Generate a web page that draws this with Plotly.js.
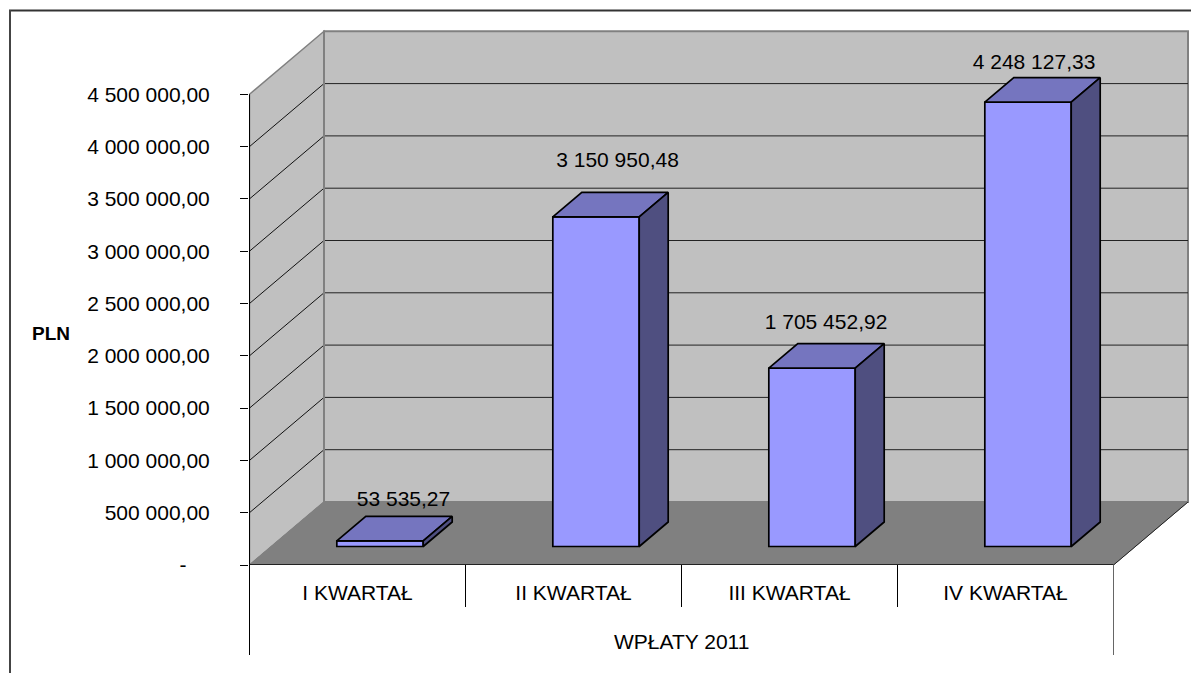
<!DOCTYPE html>
<html><head><meta charset="utf-8"><script src="https://cdn.plot.ly/plotly-3.0.1.min.js"></script>
<style>html,body{margin:0;padding:0;background:#fff}</style></head>
<body><div id="chart" style="width:1191px;height:673px"></div>
<script>
const categories = ["I KWARTAŁ", "II KWARTAŁ", "III KWARTAŁ", "IV KWARTAŁ"];
const values = [53535.27, 3150950.48, 1705452.92, 4248127.33];
const valueLabels = ["53 535,27", "3 150 950,48", "1 705 452,92", "4 248 127,33"];
const groupLabel = "WPŁATY 2011";
const axisTitle = "PLN";
const tickVals = [0, 500000, 1000000, 1500000, 2000000, 2500000, 3000000, 3500000, 4000000, 4500000];
const tickText = ["-\u00a0\u00a0\u00a0\u00a0", "500 000,00", "1 000 000,00", "1 500 000,00", "2 000 000,00", "2 500 000,00", "3 000 000,00", "3 500 000,00", "4 000 000,00", "4 500 000,00"];

// oblique projection of the depth axis, in axis units
const PXX = 216, PXY = 104.6 / 1e6;
const ML = 249, MT = 28, BOTTOM = 565, RIGHT = 1191, ORIGIN = 249.5;
const DX = 74.5 / PXX, DY = 63 / PXY, YMAX = 4.5e6;
const D0 = 18.5 / 63, D1 = 43 / 63, GAP = 0.303, W = 0.4;
const font = {family: '"Liberation Sans", Arial, sans-serif', color: '#000'};
const FS = 21;
const px = (x, d) => x + d * DX, py = (v, d) => v + d * DY;
const xr = [(ML - ORIGIN) / PXX, (RIGHT - ORIGIN) / PXX], yr = [0, (BOTTOM - MT) / PXY];
const paperX = p => (p - ML) / (RIGHT - ML), paperY = p => (BOTTOM - p) / (BOTTOM - MT);

function poly(pts, fill, lineColor, lw) {
  return {type: 'path', xref: 'x', yref: 'y', layer: 'below', fillcolor: fill,
    line: {color: lineColor, width: lw},
    path: 'M' + pts.map(p => p[0] + ',' + p[1]).join('L') + 'Z'};
}
function seg(x0, y0, x1, y1, color, w, xref, yref) {
  return {type: 'line', xref: xref || 'x', yref: yref || 'y', layer: 'below', x0, y0, x1, y1, line: {color, width: w}};
}
const shapes = [];
shapes.push(poly([[0,0],[0,YMAX],[DX,YMAX+DY],[DX,DY]], '#C0C0C0', '#808080', 1.5));
shapes.push(poly([[DX,DY],[DX,YMAX+DY],[4+DX,YMAX+DY],[4+DX,DY]], '#C0C0C0', '#808080', 2));
shapes.push(poly([[0,0],[4,0],[4+DX,DY],[DX,DY]], '#808080', '#808080', 1));
tickVals.slice(1, -1).forEach(v => {
  shapes.push(seg(0, v, DX, v + DY, '#111', 1));
  shapes.push(seg(DX, v + DY, 4 + DX, v + DY, '#222', 1));
});
shapes.push(seg(DX, DY, DX, YMAX + DY, '#808080', 2));
shapes.push(seg(0, 0, DX, DY, '#808080', 1));
shapes.push(seg(4, 0, 4 + DX, DY, '#222', 1));
shapes.push(seg(0, 0, 0, YMAX, '#000', 1));
shapes.push(seg(0, 0, 4, 0, '#222', 2));
// category dividers below the floor
const lowY = paperY(607), lowerY = paperY(655);
[0, 4].forEach((c, k) => shapes.push(seg(c, 0, c, lowerY, k ? '#666' : '#000', 1, 'x', 'paper')));
[1, 2, 3].forEach(c => shapes.push(seg(c, 0, c, lowY, '#000', 1, 'x', 'paper')));
shapes.forEach(s => { if (s.yref === 'paper') s.y0 = 0; });
// page frame
shapes.push({type: 'line', xref: 'paper', yref: 'paper', layer: 'above', x0: paperX(9), x1: paperX(1191), y0: paperY(10.5), y1: paperY(10.5), line: {color: '#333', width: 2}});
shapes.push({type: 'line', xref: 'paper', yref: 'paper', layer: 'above', x0: paperX(10), x1: paperX(10), y0: paperY(10), y1: paperY(673), line: {color: '#444', width: 2}});

const lefts = categories.map((_, i) => i + GAP + D0 * DX);
const frontBars = {type: 'bar', x: lefts.map(l => l + W / 2), y: values, base: values.map(() => D0 * DY), width: W,
  marker: {color: '#9999FF', line: {color: '#000', width: 1.7}}, hoverinfo: 'none', showlegend: false};

const faces = [];
values.forEach((v, i) => {
  const x0 = i + GAP, x1 = x0 + W;
  faces.push({type: 'scatter', mode: 'lines', showlegend: false, hoverinfo: 'none', fill: 'toself', fillcolor: '#7575BF',
    line: {color: '#000', width: 1.7},
    x: [px(x0, D0), px(x1, D0), px(x1, D1), px(x0, D1), px(x0, D0)],
    y: [py(v, D0), py(v, D0), py(v, D1), py(v, D1), py(v, D0)]});
  faces.push({type: 'scatter', mode: 'lines', showlegend: false, hoverinfo: 'none', fill: 'toself', fillcolor: '#4F4F80',
    line: {color: '#000', width: 1.7},
    x: [px(x1, D0), px(x1, D1), px(x1, D1), px(x1, D0), px(x1, D0)],
    y: [py(0, D0), py(0, D1), py(v, D1), py(v, D0), py(0, D0)]});
});

// data-label placement relative to the bar tops (pixels)
const labelShiftX = [23.5, 21.5, 14, 6], labelLift = [40, 55.5, 44.5, 38.5];
const labelTrace = {type: 'scatter', mode: 'text', showlegend: false, hoverinfo: 'none', cliponaxis: false,
  x: lefts.map((l, i) => l + W / 2 + labelShiftX[i] / PXX),
  y: values.map((v, i) => py(v, D0) + labelLift[i] / PXY),
  text: valueLabels, textposition: 'middle center', textfont: Object.assign({size: FS}, font)};

Plotly.newPlot('chart', [frontBars].concat(faces, [labelTrace]), {
  width: 1191, height: 673, autosize: false, showlegend: false, bargap: 0,
  paper_bgcolor: '#fff', plot_bgcolor: 'rgba(0,0,0,0)',
  margin: {l: ML, r: 1191 - RIGHT, t: MT, b: 673 - BOTTOM, pad: 0},
  xaxis: {type: 'linear', range: xr, tickmode: 'array', tickvals: [0.5, 1.5, 2.5, 3.5], ticktext: categories,
    ticks: '', showgrid: false, zeroline: false, showline: false, ticklabelstandoff: 13, tickfont: Object.assign({size: FS}, font)},
  yaxis: {range: yr, tickmode: 'array', tickvals: tickVals, ticktext: tickText, ticks: 'outside', ticklen: 8, tickwidth: 1, tickcolor: '#000',
    showgrid: false, zeroline: false, showline: false, ticklabelstandoff: 26, tickfont: Object.assign({size: FS}, font)},
  shapes,
  annotations: [
    {xref: 'x', yref: 'paper', x: 2, y: paperY(641), text: groupLabel, showarrow: false, xanchor: 'center', yanchor: 'middle', font: Object.assign({size: FS}, font)},
    {xref: 'paper', yref: 'paper', x: paperX(51), y: paperY(333), text: '<b>' + axisTitle + '</b>', showarrow: false, xanchor: 'center', yanchor: 'middle', font: Object.assign({size: 19}, font)}
  ]
}, {staticPlot: true, displayModeBar: false});
</script></body></html>
